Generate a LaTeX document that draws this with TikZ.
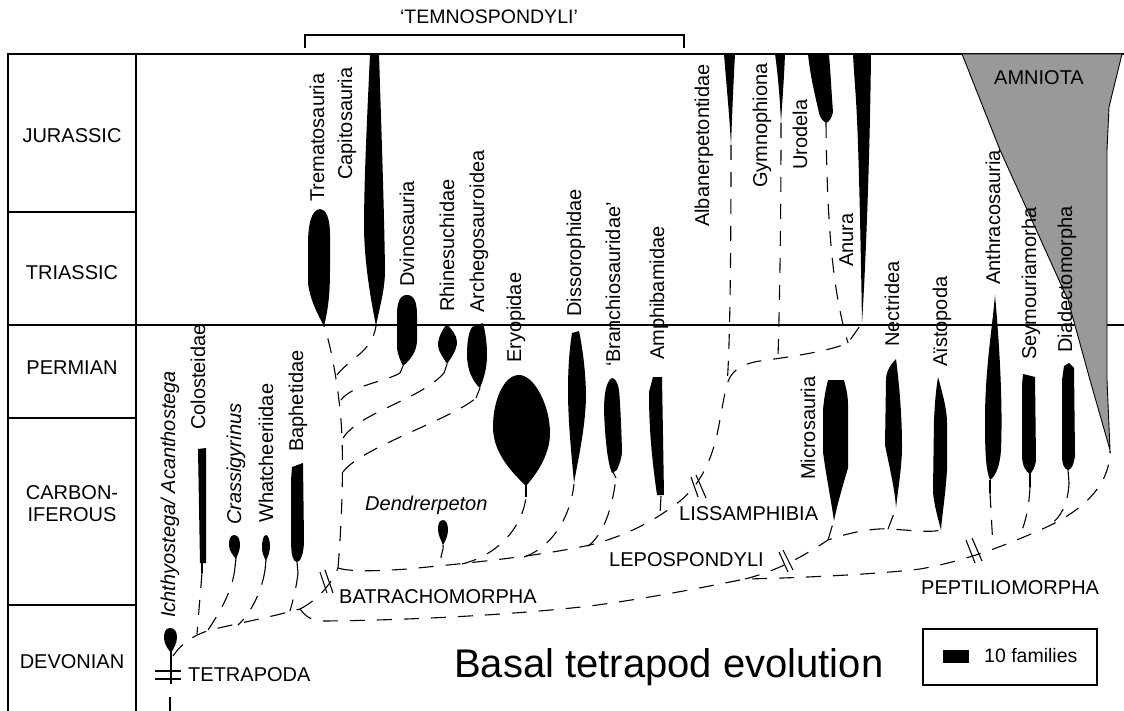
\documentclass[tikz,border=0pt]{standalone}
\usepackage{fontspec}
\setmainfont{Liberation Sans}
\definecolor{amngrey}{RGB}{153,153,153}
\begin{document}
\begin{tikzpicture}[x=1pt,y=-1pt,
  tblline/.style={line width=1.2pt},
  dsh/.style={line width=1.1pt, dash pattern=on 15pt off 12pt},
  tailline/.style={line width=1.1pt},
  brk/.style={line width=1.1pt},
  spin/.style={fill=black},
  taxon/.style={rotate=90, anchor=base west, inner sep=0pt, font=\fontsize{20}{24}\selectfont},
  clade/.style={anchor=west, inner sep=0pt, font=\fontsize{20}{24}\selectfont},
  rowlbl/.style={inner sep=0pt, align=center, font=\fontsize{20}{22}\selectfont}]
\useasboundingbox (0,0) rectangle (1124,711);
\fill[white] (0,0) rectangle (1124,711);

% ---- time table ----
\draw[tblline] (8,711) -- (8,54) -- (1124,54);
\draw[tblline] (136,54) -- (136,711);
\draw[tblline] (8,212) -- (136,212);
\draw[tblline] (8,325) -- (1124,325);
\draw[tblline] (8,418) -- (136,418);
\draw[tblline] (8,605) -- (136,605);
\node[rowlbl] (jur) at (72,136) {JURASSIC};
\node[rowlbl] (tri) at (72,273) {TRIASSIC};
\node[rowlbl] (per) at (72,368) {PERMIAN};
\node[rowlbl] (car) at (72,504) {CARBON-\\IFEROUS};
\node[rowlbl] (dev) at (72,662) {DEVONIAN};

% ---- Temnospondyli bracket ----
\coordinate (bl) at (305,48);
\coordinate (br) at (684,48);
\draw[line width=1.1pt] (bl) -- (305,35) -- (684,35) -- (br);
\node[inner sep=0pt, font=\fontsize{19.5}{24}\selectfont] (temno) at (489,17) {‘TEMNOSPONDYLI’};

% ---- Amniota ----
\filldraw[fill=amngrey, draw=black, line width=0.9pt] (962,54) -- (1000,150) -- (1068,300) -- (1090,380) -- (1110,450) -- (1107,380) -- (1107,150) -- (1109,107) -- (1122,54) -- cycle;
\node[inner sep=0pt, font=\fontsize{20}{24}\selectfont] (amn) at (1039,78) {AMNIOTA};

% ---- spindles ----
% Ichthyostega
\fill[spin] (170,628) .. controls (165,628) and (164,633) .. (164,638) .. controls (164,644) and (168,649) .. (171,653) .. controls (174,648) and (177,643) .. (177,637) .. controls (177,631) and (174,628) .. (170,628) -- cycle;
% Colosteidae
\fill[spin] (198,449) -- (206,448) -- (206,563) -- (200,563) -- cycle;
% Crassigyrinus
\fill[spin] (234,535) .. controls (230,535) and (229,540) .. (229,545) .. controls (229,551) and (233,555) .. (236,559) .. controls (238,554) and (240,550) .. (240,545) .. controls (240,539) and (238,535) .. (234,535) -- cycle;
% Whatcheeriidae
\fill[spin] (266,535) .. controls (263,535) and (262,542) .. (262,548) .. controls (262,553) and (264,557) .. (266,561) .. controls (268,556) and (270,552) .. (270,546) .. controls (270,540) and (268,535) .. (266,535) -- cycle;
% Baphetidae
\fill[spin] (292,467) -- (303,463) -- (304,540) .. controls (304,555) and (300,562) .. (297,562) .. controls (293,562) and (291,555) .. (291,540) -- (291,480) -- cycle;
% Trematosauria
\fill[spin] (320,209) .. controls (311,210) and (308,225) .. (308,245) -- (308,283) .. controls (310,300) and (318,315) .. (324,326) .. controls (328,310) and (330,295) .. (330,270) -- (330,235) .. controls (330,218) and (326,209) .. (320,209) -- cycle;
% Capitosauria
\fill[spin] (370,54) .. controls (367,120) and (364,180) .. (364,230) .. controls (365,270) and (372,305) .. (376,326) .. controls (380,305) and (385,290) .. (385,270) .. controls (384,200) and (381,120) .. (379,54) -- cycle;
% Dvinosauria
\fill[spin] (407,295) .. controls (400,295) and (397,302) .. (397,315) -- (397,348) .. controls (398,356) and (401,362) .. (403,366) .. controls (410,360) and (417,352) .. (417,340) -- (417,315) .. controls (417,302) and (414,295) .. (407,295) -- cycle;
% Rhinesuchidae
\fill[spin] (447,324) .. controls (442,330) and (438,338) .. (438,345) .. controls (438,352) and (444,358) .. (447,364) .. controls (451,358) and (457,350) .. (457,342) .. controls (457,335) and (451,329) .. (447,324) -- cycle;
% Archegosauroidea
\fill[spin] (472,327) -- (483,323) .. controls (486,335) and (487,345) .. (487,355) .. controls (487,370) and (483,380) .. (480,388) .. controls (473,382) and (467,370) .. (467,355) .. controls (467,340) and (469,332) .. (472,327) -- cycle;
% Eryopidae
\fill[spin] (519,375) .. controls (504,375) and (493,400) .. (493,427) .. controls (493,455) and (515,475) .. (526,486) .. controls (540,470) and (550,452) .. (550,433) .. controls (550,405) and (534,375) .. (519,375) -- cycle;
% Dendrerpeton
\fill[spin] (443,520) .. controls (439,520) and (438,525) .. (438,529) .. controls (438,535) and (441,540) .. (443,545) .. controls (446,540) and (448,535) .. (448,530) .. controls (448,524) and (446,520) .. (443,520) -- cycle;
% Dissorophidae
\fill[spin] (572,333) -- (579,331) .. controls (583,350) and (586,375) .. (586,398) .. controls (585,430) and (578,460) .. (574,483) .. controls (571,450) and (568,420) .. (568,390) .. controls (568,365) and (570,345) .. (572,333) -- cycle;
% Branchiosauridae
\fill[spin] (612,378) .. controls (606,381) and (604,395) .. (604,410) .. controls (605,440) and (608,465) .. (612,473) -- (617,470) .. controls (620,462) and (622,458) .. (622,450) .. controls (621,420) and (620,400) .. (619,390) .. controls (618,383) and (615,378) .. (612,378) -- cycle;
% Amphibamidae
\fill[spin] (649,392) -- (653,377) -- (662,377) -- (664,495) -- (657,495) .. controls (652,460) and (649,430) .. (649,392) -- cycle;
% Albanerpetontidae
\fill[spin] (724,54) -- (735,54) .. controls (733,90) and (732,120) .. (731,145) .. controls (729,110) and (726,80) .. (724,54) -- cycle;
% Gymnophiona
\fill[spin] (775,54) -- (785,54) .. controls (784,80) and (782,105) .. (781,123) .. controls (780,100) and (778,75) .. (775,54) -- cycle;
% Urodela
\fill[spin] (808,54) -- (829,54) .. controls (831,80) and (832,100) .. (833,112) .. controls (832,118) and (829,122) .. (826,123) .. controls (823,121) and (820,118) .. (819,113) .. controls (815,95) and (810,75) .. (808,54) -- cycle;
% Anura
\fill[spin] (853,54) -- (871,54) .. controls (870,150) and (866,260) .. (862,323) .. controls (861,260) and (859,160) .. (857,120) .. controls (856,95) and (854,75) .. (853,54) -- cycle;
% Microsauria
\fill[spin] (828,380) -- (844,380) .. controls (846,388) and (848,395) .. (848,405) -- (848,468) .. controls (843,485) and (837,505) .. (834,521) .. controls (831,500) and (826,475) .. (823,452) -- (823,410) .. controls (824,398) and (826,388) .. (828,380) -- cycle;
% Nectridea
\fill[spin] (896,359) .. controls (890,365) and (886,372) .. (886,380) -- (885,445) .. controls (890,470) and (895,490) .. (896,508) .. controls (898,490) and (902,465) .. (902,447) .. controls (902,420) and (900,390) .. (896,359) -- cycle;
% Aistopoda
\fill[spin] (938,377) .. controls (943,395) and (947,410) .. (947,423) -- (947,470) .. controls (945,500) and (942,515) .. (941,530) .. controls (937,515) and (933,500) .. (933,490) -- (934,420) .. controls (935,400) and (936,390) .. (938,377) -- cycle;
% Anthracosauria
\fill[spin] (995,295) .. controls (992,330) and (985,370) .. (985,420) .. controls (985,455) and (986,470) .. (990,480) .. controls (996,476) and (1000,465) .. (1001,450) .. controls (1003,400) and (999,340) .. (995,295) -- cycle;
% Seymouriamorpha
\fill[spin] (1023,374) -- (1035,377) -- (1036,460) .. controls (1035,468) and (1032,472) .. (1030,474) .. controls (1026,472) and (1022,466) .. (1022,455) -- (1022,385) -- cycle;
% Diadectomorpha
\fill[spin] (1064,366) -- (1069,363) -- (1074,368) -- (1075,455) .. controls (1074,465) and (1071,470) .. (1068,470) .. controls (1064,469) and (1062,464) .. (1062,455) -- (1062,380) -- cycle;

% ---- spindle tails (solid) ----
\coordinate (ich) at (171,652);
\coordinate (tet) at (171,684);
\coordinate (colt) at (202,573);
\coordinate (crat) at (235,567);
\coordinate (what) at (265,570);
\coordinate (bapt) at (298,573);
\coordinate (tret) at (324,326);
\coordinate (capt) at (376,326);
\coordinate (dvit) at (400,373);
\coordinate (rhit) at (444,373);
\coordinate (arct) at (476,398);
\coordinate (eryt) at (526,497);
\coordinate (dist) at (574,484);
\coordinate (brat) at (616,478);
\coordinate (ampt) at (661,496);
\coordinate (albt) at (731,145);
\coordinate (gymt) at (781,123);
\coordinate (urot) at (826,123);
\coordinate (anut) at (862,323);
\coordinate (mict) at (834,520);
\coordinate (nect) at (896,508);
\coordinate (aist) at (941,530);
\coordinate (antt) at (990,493);
\coordinate (seyt) at (1030,487);
\coordinate (diat) at (1069,483);
\coordinate (amnt) at (1110,451);

\draw[tailline] (202,563) -- (colt);
\draw[tailline] (236,558) -- (crat);
\draw[tailline] (266,560) -- (what);
\draw[tailline] (297,562) -- (bapt);
\draw[tailline] (403,366) -- (dvit);
\draw[tailline] (447,364) -- (rhit);
\draw[tailline] (480,388) -- (arct);
\draw[tailline] (526,485) -- (eryt);
\draw[tailline] (443,545) .. controls (444,550) and (441,553) .. (441,558);
\draw[tailline] (613,472) -- (brat);
\draw[tailline] (990,480) -- (antt);
\draw[tailline] (1030,473) -- (seyt);
\draw[tailline] (1068,470) -- (diat);

% ---- Tetrapoda root ----
\draw[tailline] (ich) -- (tet);
\draw[brk] (155,671) -- (181,671);
\draw[brk] (155,679) -- (181,679);
\draw[dsh] (170,697) -- (170,711);

% ---- junctions ----
\coordinate (j0) at (173,656);
\coordinate (split) at (300,609);
\coordinate (bat) at (338,568);
\coordinate (lis) at (727,385);
\coordinate (anuj) at (848,343);
\coordinate (lep) at (745,579);
\coordinate (tcap) at (337,375);
\coordinate (tdvi) at (341,400);
\coordinate (trhi) at (343,438);
\coordinate (tarc) at (343,472);
\coordinate (eryj) at (462,564);
\coordinate (disj) at (524,557);
\coordinate (braj) at (588,546);
\coordinate (ampj) at (660,514);
\coordinate (gymj) at (778,358);
\coordinate (micj) at (828,540);
\coordinate (necj) at (888,529);
\coordinate (antj) at (993,547);
\coordinate (seyj) at (1018,539);
\coordinate (diaj) at (1050,525);

% main stem from Tetrapoda
\draw[dsh] (j0) .. controls (182,643) and (192,636) .. (210,630) .. controls (240,623) and (275,616) .. (split);
\draw[dsh] (colt) -- (197,634);
\draw[dsh] (crat) .. controls (233,590) and (220,612) .. (208,630);
\draw[dsh] (what) .. controls (262,590) and (252,612) .. (238,625);
\draw[dsh] (bapt) .. controls (296,590) and (293,600) .. (290,611);

% Batrachomorpha
\draw[dsh] (split) .. controls (318,600) and (332,583) .. (bat);
\draw[dsh] (bat) .. controls (342,520) and (344,460) .. (341,420) .. controls (338,385) and (331,345) .. (tret);
\draw[dsh] (tcap) .. controls (350,358) and (372,352) .. (capt);
\draw[dsh] (tdvi) .. controls (352,385) and (385,382) .. (dvit);
\draw[dsh] (trhi) .. controls (360,412) and (420,400) .. (rhit);
\draw[dsh] (tarc) .. controls (360,448) and (450,420) .. (arct);
\draw[dsh] (bat) .. controls (350,572) and (380,571) .. (407,569) .. controls (470,563) and (540,556) .. (590,545) .. controls (630,535) and (660,517) .. (680,501) .. controls (700,485) and (712,460) .. (718,430) .. controls (722,410) and (724,395) .. (lis) .. controls (730,372) and (740,364) .. (760,361) .. controls (790,357) and (830,351) .. (anuj) -- (anut);
\draw[dsh] (eryj) .. controls (495,556) and (522,530) .. (eryt);
\draw[dsh] (disj) .. controls (550,548) and (570,520) .. (dist);
\draw[dsh] (braj) .. controls (603,535) and (612,510) .. (brat);
\draw[dsh] (ampt) -- (ampj);
\draw[dsh] (albt) .. controls (731,300) and (729,360) .. (lis);
\draw[dsh] (gymt) .. controls (781,250) and (779,320) .. (gymj);
\draw[dsh] (urot) .. controls (827,220) and (832,290) .. (anuj);

% Reptiliomorph line
\draw[dsh] (split) .. controls (306,617) and (312,621) .. (325,621) .. controls (420,620) and (520,614) .. (590,606) .. controls (650,598) and (700,588) .. (lep) .. controls (800,578) and (880,574) .. (920,569) .. controls (960,562) and (1000,548) .. (1040,530) .. controls (1075,515) and (1110,490) .. (amnt);
\draw[dsh] (lep) .. controls (780,570) and (805,555) .. (micj) .. controls (850,532) and (875,528) .. (necj) .. controls (910,530) and (930,533) .. (aist);
\draw[dsh] (micj) -- (mict);
\draw[dsh] (necj) -- (nect);
\draw[dsh] (antt) -- (antj);
\draw[dsh] (seyt) .. controls (1029,510) and (1024,528) .. (seyj);
\draw[dsh] (diat) .. controls (1068,505) and (1060,518) .. (diaj);

% ---- break marks ----
\draw[brk] (320,572) -- (327,593);
\draw[brk] (325,570) -- (333,593);
\draw[brk] (691,477) -- (698,497);
\draw[brk] (696,475) -- (706,498);
\draw[brk] (779,552) -- (788,572);
\draw[brk] (783,550) -- (793,570);
\draw[brk] (966,540) -- (975,563);
\draw[brk] (972,538) -- (982,561);

% ---- clade labels ----
\node[clade] (ltet) at (188,675) {TETRAPODA};
\node[clade] (lbat) at (339,597) {BATRACHOMORPHA};
\node[clade] (llis) at (679,514) {LISSAMPHIBIA};
\node[clade] (llep) at (609,560) {LEPOSPONDYLI};
\node[clade] (lpep) at (921,588) {PEPTILIOMORPHA};
\node[anchor=base west, inner sep=0pt, font=\fontsize{20}{24}\selectfont\itshape] (lden) at (365,510) {Dendrerpeton};

% ---- taxon labels ----
\node[taxon, font=\fontsize{20}{24}\selectfont\itshape] (tich) at (175,618) {Ichthyostega/ Acanthostega};
\node[taxon] (tcol) at (205,430) {Colosteidae};
\node[taxon, font=\fontsize{20}{24}\selectfont\itshape] (tcra) at (241,525) {Crassigyrinus};
\node[taxon] (twha) at (273,523) {Whatcheeriidae};
\node[taxon] (tbap) at (303,452) {Baphetidae};
\node[taxon] (ttre) at (324,202) {Trematosauria};
\node[taxon] (tcapl) at (352,180) {Capitosauria};
\node[taxon] (tdvil) at (414,287) {Dvinosauria};
\node[taxon] (trhil) at (454,312) {Rhinesuchidae};
\node[taxon] (tarcl) at (484,313) {Archegosauroidea};
\node[taxon] (tery) at (521,363) {Eryopidae};
\node[taxon] (tdis) at (581,317) {Dissorophidae};
\node[taxon] (tbra) at (620,367) {‘Branchiosauridae’};
\node[taxon] (tamp) at (664,360) {Amphibamidae};
\node[taxon] (talb) at (709,227) {Albanerpetontidae};
\node[taxon] (tgym) at (767,188) {Gymnophiona};
\node[taxon] (turo) at (807,170) {Urodela};
\node[taxon] (tanu) at (853,267) {Anura};
\node[taxon] (tmic) at (815,480) {Microsauria};
\node[taxon] (tnec) at (899,347) {Nectridea};
\node[taxon] (tais) at (947,367) {Aïstopoda};
\node[taxon] (tant) at (1000,285) {Anthracosauria};
\node[taxon] (tsey) at (1036,360) {Seymouriamorha};
\node[taxon] (tdia) at (1072,353) {Diadectomorpha};

% ---- title and legend ----
\node[anchor=base west, inner sep=0pt, font=\fontsize{40}{48}\selectfont] (title) at (454,677) {Basal tetrapod evolution};
\draw[line width=1.1pt] (923,629) rectangle (1097,685);
\fill (943,650) rectangle (969,663);
\node[anchor=base west, inner sep=0pt, font=\fontsize{19.5}{24}\selectfont] (leg) at (984,662) {10 families};
\end{tikzpicture}
\end{document}
